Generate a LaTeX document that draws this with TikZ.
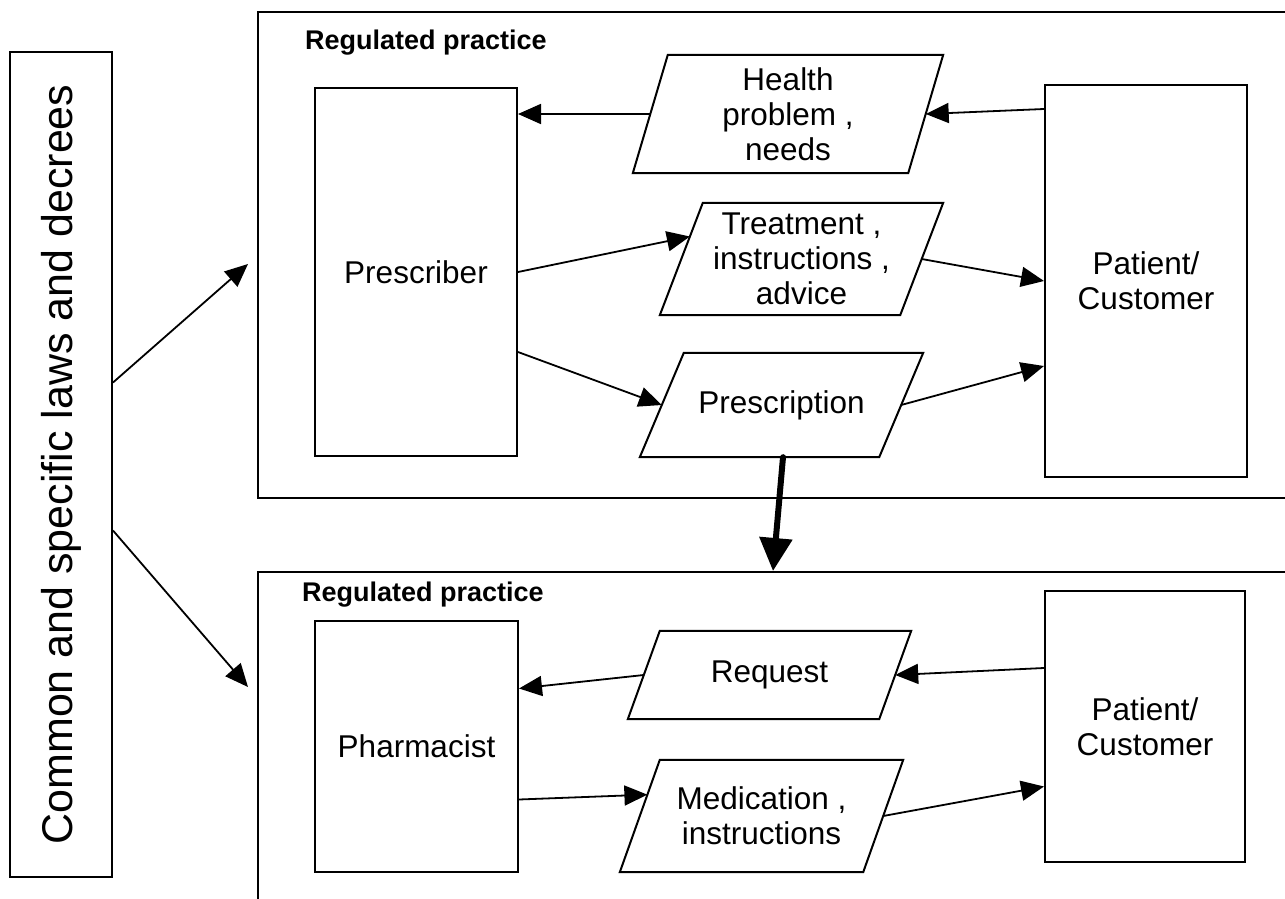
\documentclass[tikz,border=0pt]{standalone}
\usepackage{fontspec}
\setmainfont{Liberation Sans}
\usepackage{tikz}
\usetikzlibrary{arrows.meta, positioning, calc, shapes.geometric}
\definecolor{LineBlack}{RGB}{0, 0, 0}

\tikzset{
  actor/.style={draw=LineBlack, line width=2pt, rectangle, align=center,
    font=\fontsize{31.5}{35}\selectfont},
  datum/.style={rectangle, align=center, inner sep=2pt, font=\fontsize{31.5}{35}\selectfont},
  flow/.style={line width=1.8pt, -{Triangle[length=23pt,width=20pt]}},
  practice/.style={draw=LineBlack, line width=2pt, rectangle, anchor=north west, inner sep=0pt},
  practicelbl/.style={anchor=base west, inner sep=0pt, font=\fontsize{27}{30}\selectfont\bfseries}
}
% parallelogram round a datum node: #1 node name, #2 half of the slant
\newcommand{\datumframe}[2]{%
  \draw[draw=LineBlack, line width=2pt] ([xshift=#2]#1.north west) -- ([xshift=#2]#1.north east)
    -- ([xshift=-#2]#1.south east) -- ([xshift=-#2]#1.south west) -- cycle;}

\begin{document}
\begin{tikzpicture}[x=1pt, y=-1pt]
    \clip (0,0) rectangle (1285,899);
    \fill[white] (0,0) rectangle (1285,899);

    % outer frames
    \node[practice, minimum width=1060pt, minimum height=486pt] (upper) at (257,11) {};
    \node[practice, minimum width=1060pt, minimum height=360pt] (lower) at (257,571) {};
    \node[practicelbl] (upperlbl) at (305,49) {Regulated practice};
    \node[practicelbl] (lowerlbl) at (302,601) {Regulated practice};

    % legal frame
    \node[actor, rotate=90, minimum width=825pt, minimum height=102pt,
      font=\fontsize{43}{48}\selectfont] (laws) at (61,464.5) {Common and specific laws and decrees};

    % actors
    \node[actor, minimum width=202pt, minimum height=368pt] (prescriber) at (416,272) {Prescriber};
    \node[actor, minimum width=202pt, minimum height=392pt] (patient1) at (1146,281) {\raisebox{-4pt}{Patient/}\\\raisebox{-4pt}{Customer}};
    \node[actor, minimum width=203pt, minimum height=251pt] (pharmacist) at (416.5,746.5) {Pharmacist};
    \node[actor, minimum width=200pt, minimum height=271pt] (patient2) at (1145,726.5) {Patient/\\Customer};

    % information flows
    \node[datum, minimum width=275pt, minimum height=118pt] (health) at (788,114) {Health\\problem ,\\needs};
    \node[datum, minimum width=240pt, minimum height=112pt] (treatment) at (801.5,259) {Treatment ,\\instructions ,\\advice};
    \node[datum, minimum width=239pt, minimum height=104pt] (prescription) at (781.5,405) {Prescription};
    \node[datum, minimum width=251pt, minimum height=88pt] (request) at (769.5,675) {Request};
    \node[datum, minimum width=243pt, minimum height=112pt] (medication) at (761.5,816) {Medication ,\\instructions};
    \datumframe{health}{17.5pt}
    \datumframe{treatment}{21.5pt}
    \datumframe{prescription}{22pt}
    \datumframe{request}{16pt}
    \datumframe{medication}{20pt}

    \coordinate (lawsup) at (248,264);
    \coordinate (lawsdown) at (248,687);
    \coordinate (rxin) at (773,571);

    % connectors
    \draw[flow] ([yshift=82pt]laws.south) -- (lawsup);
    \draw[flow] ([yshift=-66pt]laws.south) -- (lawsdown);
    \draw[flow] (health.west) -- (health.west -| prescriber.east);
    \draw[flow] ([yshift=-25pt]patient1.north west) -- (health.east);
    \draw[flow] (prescriber.east) -- ($([xshift=-21.5pt]treatment.south west)!0.7!([xshift=21.5pt]treatment.north west)$);
    \draw[flow] (treatment.east) -- (patient1.west);
    \draw[flow] ([yshift=-80pt]prescriber.east) -- (prescription.west);
    \draw[flow] (prescription.east) -- ([yshift=-85pt]patient1.west);
    \draw[line width=6pt, line cap=round, -{Triangle[length=33pt,width=32pt]}] ([xshift=1.5pt]prescription.south) -- (rxin);
    \draw[flow] (request.west) -- ([yshift=58pt]pharmacist.east);
    \draw[flow] ([yshift=-78pt]patient2.north west) -- (request.east);
    \draw[flow] ([yshift=-53pt]pharmacist.east) -- ($([xshift=-20pt]medication.south west)!0.69!([xshift=20pt]medication.north west)$);
    \draw[flow] (medication.east) -- ([yshift=-60pt]patient2.west);
  \end{tikzpicture}
\end{document}
